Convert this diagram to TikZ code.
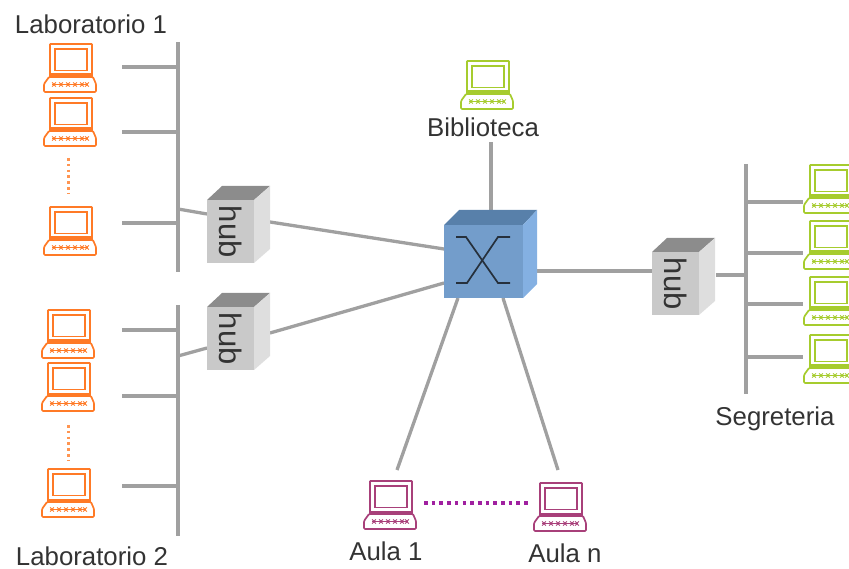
\documentclass[tikz,border=0pt]{standalone}
\usepackage{fontspec}
\setmainfont{Liberation Sans}
\definecolor{cOrange}{HTML}{FF7A26}
\definecolor{cLime}{HTML}{A6CC2E}
\definecolor{cPlum}{HTML}{A8407A}
\definecolor{cWire}{HTML}{A0A0A0}
\definecolor{cDots}{HTML}{A020A0}
\definecolor{cCross}{HTML}{26303C}
\definecolor{cInk}{HTML}{333333}
\tikzset{
  wire/.style={draw=cWire,line width=3.3pt},
  label text/.style={font=\fontsize{25.8}{28}\selectfont,text=cInk,inner sep=0pt},
  hub word/.style={font=\fontsize{31}{34}\selectfont,text=cInk,rotate=-90,inner sep=0pt},
  orange dots/.style={draw=cOrange!80,line width=3pt,dash pattern=on 2.6pt off 3.2pt},
  plum dots/.style={draw=cDots,line width=3.6pt,dash pattern=on 3.6pt off 4.1pt},
  pics/pc/.style={code={
    \draw[#1,line width=1.7pt,fill=white,rounded corners=0.5pt] (0,0) rectangle (42,33);
    \draw[#1,line width=1.7pt] (5.2,5.2) rectangle (36.8,26.5);
    \fill[#1] (0,29.5) rectangle (42,33);
    \draw[#1,line width=1.7pt,fill=white,rounded corners=1pt,line join=round] (-1,33) -- (43,33) -- (46,40) -- (46,48) -- (-6,48) -- (-6,40) -- cycle;
    \draw[#1,line width=1pt] (2,40.5) -- (38,40.5);
    \foreach \kx in {4,11,18,25,32,37}{
      \draw[#1,line width=.9pt] (\kx-1.8,38.3) -- (\kx+1.8,42.7) (\kx-1.8,42.7) -- (\kx+1.8,38.3);}
  }},
}
\newcommand{\hubbox}[3]{% name, x of front left, y of front top
  \fill[black!45!white,draw=none] (#2,#3) -- (#2+15,#3-14) -- (#2+63,#3-14) -- (#2+47,#3) -- cycle;
  \fill[black!13!white] (#2+47,#3) -- (#2+63,#3-14) -- (#2+63,#3+49) -- (#2+47,#3+63) -- cycle;
  \node[fill=black!21!white,minimum width=47pt,minimum height=63pt,inner sep=0pt,anchor=north west] (#1) at (#2,#3) {};
  \node[hub word] at (#1.center) {hub};
}
\begin{document}
\begin{tikzpicture}[x=1pt,y=-1pt]
\useasboundingbox (0,0) rectangle (849,569);
\clip (0,0) rectangle (849,569);

% named end points
\coordinate (bus1a) at (178,42);   \coordinate (bus1b) at (178,272);
\coordinate (bus2a) at (178,305);  \coordinate (bus2b) at (178,536);
\coordinate (bus3a) at (746,164);  \coordinate (bus3b) at (746,394);
\coordinate (s11) at (122,67);  \coordinate (t11) at (178,67);
\coordinate (s12) at (122,132); \coordinate (t12) at (178,132);
\coordinate (s13) at (122,223); \coordinate (t13) at (178,223);
\coordinate (s21) at (122,330); \coordinate (t21) at (178,330);
\coordinate (s22) at (122,396); \coordinate (t22) at (178,396);
\coordinate (s23) at (122,486); \coordinate (t23) at (178,486);
\coordinate (s31) at (803,202); \coordinate (t31) at (746,202);
\coordinate (s32) at (803,253); \coordinate (t32) at (746,253);
\coordinate (s33) at (803,304); \coordinate (t33) at (746,304);
\coordinate (s34) at (803,357); \coordinate (t34) at (746,357);
\coordinate (j1) at (178,209); \coordinate (h1l) at (207,214); \coordinate (h1r) at (270,222);
\coordinate (j2) at (178,356); \coordinate (h2l) at (207,348); \coordinate (h2r) at (270,333);
\coordinate (j3) at (746,275); \coordinate (h3r) at (716,275); \coordinate (h3l) at (652,271);
\coordinate (swA) at (444,249); \coordinate (swB) at (444,283);
\coordinate (swT) at (491,212); \coordinate (swR) at (537,271);
\coordinate (swC) at (458,298); \coordinate (swD) at (503,298);
\coordinate (bib) at (491,142); \coordinate (au1) at (397,470); \coordinate (aun) at (558,470);
\coordinate (d1a) at (68,158); \coordinate (d1b) at (68,194);
\coordinate (d2a) at (68,425); \coordinate (d2b) at (68,461);
\coordinate (d3a) at (424,503); \coordinate (d3b) at (531,503);

% wires
\draw[wire] (bus1a) -- (bus1b);
\draw[wire] (bus2a) -- (bus2b);
\draw[wire] (bus3a) -- (bus3b);
\foreach \n in {11,12,13,21,22,23,31,32,33,34} \draw[wire] (s\n) -- (t\n);
\draw[wire] (j1) -- (h1l);
\draw[wire] (j2) -- (h2l);
\draw[wire] (j3) -- (h3r);
\draw[wire] (h1r) -- (swA);
\draw[wire] (h2r) -- (swB);
\draw[wire] (h3l) -- (swR);
\draw[wire] (bib) -- (swT);
\draw[wire] (au1) -- (swC);
\draw[wire] (aun) -- (swD);

% hubs
\hubbox{hubA}{207}{200}
\hubbox{hubB}{207}{307}
\hubbox{hubC}{652}{252}

% switch
\fill[fill={rgb,255:red,88;green,128;blue,170}] (444,225) -- (459,210) -- (537,210) -- (523,225) -- cycle;
\fill[fill={rgb,255:red,132;green,176;blue,226}] (523,225) -- (537,210) -- (537,284) -- (523,298) -- cycle;
\node[fill={rgb,255:red,115;green,157;blue,203},minimum width=79pt,minimum height=73pt,inner sep=0pt,anchor=north west] (sw) at (444,225) {};
\draw[line width=1.7pt,draw=cCross] (456,237) -- (466,237) -- (498,283) -- (510,283);
\draw[line width=1.7pt,draw=cCross] (456,283) -- (467,283) -- (498,237) -- (510,237);

% computers
\pic at (50,44) {pc=cOrange};
\pic at (50,98) {pc=cOrange};
\pic at (50,207) {pc=cOrange};
\pic at (48,310) {pc=cOrange};
\pic at (48,363) {pc=cOrange};
\pic at (48,469) {pc=cOrange};
\pic at (467,61) {pc=cLime};
\pic at (810,165) {pc=cLime};
\pic at (810,221) {pc=cLime};
\pic at (810,277) {pc=cLime};
\pic at (810,335) {pc=cLime};
\pic at (370,481) {pc=cPlum};
\pic at (540,483) {pc=cPlum};

% dotted runs
\draw[orange dots] (d1a) -- (d1b);
\draw[orange dots] (d2a) -- (d2b);
\draw[plum dots] (d3a) -- (d3b);

% labels
\node[label text] (lab1) at (91,24) {Laboratorio 1};
\node[label text] (lab2) at (92,556) {Laboratorio 2};
\node[label text] (bibl) at (483,127) {Biblioteca};
\node[label text] (segr) at (775,419) {Segreteria};
\node[label text] (aula1) at (386,551) {Aula 1};
\node[label text] (aulan) at (565,553) {Aula n};
\end{tikzpicture}
\end{document}
